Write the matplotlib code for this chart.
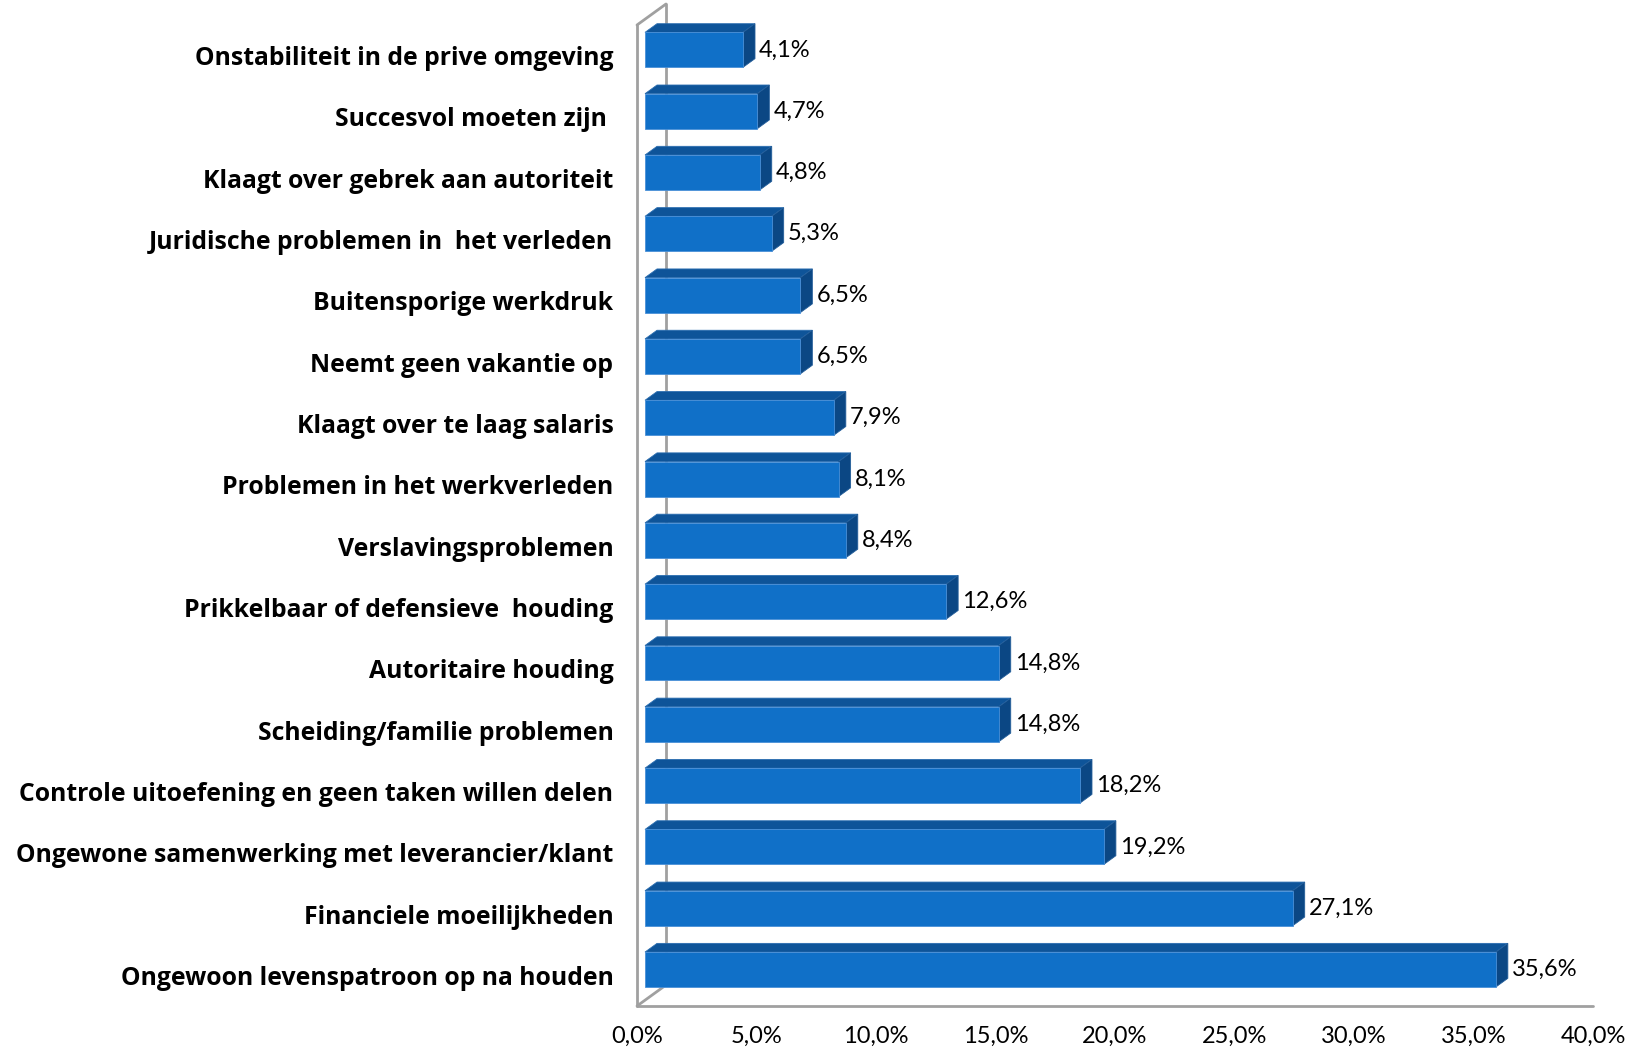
import matplotlib
matplotlib.use("Agg")
import matplotlib.pyplot as plt
from matplotlib.patches import Polygon

categories = [
    "Onstabiliteit in de prive omgeving",
    "Succesvol moeten zijn ",
    "Klaagt over gebrek aan autoriteit",
    "Juridische problemen in  het verleden",
    "Buitensporige werkdruk",
    "Neemt geen vakantie op",
    "Klaagt over te laag salaris",
    "Problemen in het werkverleden",
    "Verslavingsproblemen",
    "Prikkelbaar of defensieve  houding",
    "Autoritaire houding",
    "Scheiding/familie problemen",
    "Controle uitoefening en geen taken willen delen",
    "Ongewone samenwerking met leverancier/klant",
    "Financiele moeilijkheden",
    "Ongewoon levenspatroon op na houden",
]
values = [4.1, 4.7, 4.8, 5.3, 6.5, 6.5, 7.9, 8.1, 8.4, 12.6, 14.8, 14.8, 18.2, 19.2, 27.1, 35.6]
xticks = [0, 5, 10, 15, 20, 25, 30, 35, 40]
xticklabels = ["0,0%", "5,0%", "10,0%", "15,0%", "20,0%", "25,0%", "30,0%", "35,0%", "40,0%"]
value_labels = [f"{v:.1f}%".replace(".", ",") for v in values]

W, H = 1631, 1051
fig = plt.figure(figsize=(W / 100, H / 100), dpi=100)
left_px, right_px, top_px, bot_px = 637, 1593, 25, 1006
ax = fig.add_axes([left_px / W, 1 - bot_px / H, (right_px - left_px) / W, (bot_px - top_px) / H])
n = len(categories)
ax.set_xlim(0, 40)
ax.set_ylim(n - 0.5, -0.5)

px_x = (right_px - left_px) / 40.0        # pixels per data unit in x
px_y = (bot_px - top_px) / n              # pixels per category
DX = 29 / px_x                            # depth offset (data units)
DY = -21 / px_y

def off(x, y, d):
    return (x + d * DX, y + d * DY)

front_c = "#1070C8"
top_c = "#0E5499"
side_c = "#0B4784"
wall_c = "#A0A0A0"

# walls
lw = 2.0
for (x0, y0), (x1, y1) in [
    ((0, -0.5), (0, n - 0.5)),
    (off(0, -0.5, 1), off(0, n - 0.5, 1)),
    ((0, -0.5), off(0, -0.5, 1)),
    ((0, n - 0.5), off(0, n - 0.5, 1)),
    ((0, n - 0.5), (40, n - 0.5)),
]:
    ax.plot([x0, x1], [y0, y1], color=wall_c, lw=lw, clip_on=False, zorder=1, solid_capstyle="round")

d0, d1 = 0.276, 0.69
h = 0.285
for i, v in enumerate(values):
    yt, yb = i - h, i + h
    front = [off(0, yt, d0), off(v, yt, d0), off(v, yb, d0), off(0, yb, d0)]
    top = [off(0, yt, d0), off(v, yt, d0), off(v, yt, d1), off(0, yt, d1)]
    side = [off(v, yt, d0), off(v, yt, d1), off(v, yb, d1), off(v, yb, d0)]
    ax.add_patch(Polygon(top, closed=True, fc=top_c, ec="#2A6DB0", lw=0.6, zorder=3, clip_on=False))
    ax.add_patch(Polygon(side, closed=True, fc=side_c, ec="#245E9A", lw=0.6, zorder=3, clip_on=False))
    ax.add_patch(Polygon(front, closed=True, fc=front_c, ec="#4A90D8", lw=0.6, zorder=4, clip_on=False))
    lx, _ = off(v, i, d1)
    _, ly = off(v, i, d0)
    ax.text(lx + 4 / px_x, ly, value_labels[i], va="center", ha="left",
            fontsize=17, family="Lato", color="#000000", zorder=5, clip_on=False)

for s in ax.spines.values():
    s.set_visible(False)
ax.set_xticks(xticks)
ax.set_xticklabels(xticklabels, fontsize=17, family="Lato")
ax.set_yticks(range(n))
ax.set_yticklabels(categories, fontsize=17.8, family="Open Sans", fontweight="bold")
ax.tick_params(axis="x", length=0, pad=14)
ax.tick_params(axis="y", length=0, pad=17)
ax.patch.set_visible(False)

fig.savefig("out.png", dpi=100)
